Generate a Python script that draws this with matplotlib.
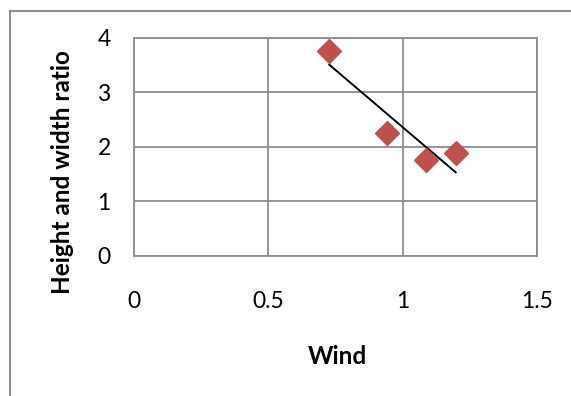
import numpy as np
import matplotlib
matplotlib.use("Agg")
import matplotlib.pyplot as plt
from matplotlib.lines import Line2D

wind = [0.727, 0.942, 1.087, 1.198]
ratio = [3.75, 2.26, 1.75, 1.88]
x_ticks = [0, 0.5, 1, 1.5]
x_tick_labels = ["0", "0.5", "1", "1.5"]
y_ticks = [0, 1, 2, 3, 4]

plt.rcParams['font.family'] = ['Lato', 'DejaVu Sans']

W, H = 571, 396
fig = plt.figure(figsize=(W / 100, H / 100), dpi=100)
ax = fig.add_axes([134.3 / W, 1 - 256 / H, (536.7 - 134.3) / W, (256 - 37.7) / H])

grid_c = "#8c8c8c"
ax.set_xlim(0, 1.5)
ax.set_ylim(0, 4)
ax.set_xticks(x_ticks)
ax.set_xticklabels(x_tick_labels)
ax.set_yticks(y_ticks)
ax.grid(True, color=grid_c, linewidth=1.3)
ax.set_axisbelow(True)
for s in ax.spines.values():
    s.set_color(grid_c)
    s.set_linewidth(1.3)
ax.tick_params(axis='both', length=0, labelsize=16.5, colors="black")
ax.tick_params(axis='x', pad=25)
ax.tick_params(axis='y', pad=17)

# trendline (linear least squares)
coef = np.polyfit(wind, ratio, 1)
xs = np.array([min(wind), max(wind)])
ax.plot(xs, np.polyval(coef, xs), color="black", linewidth=1.4, zorder=3)
ax.plot(wind, ratio, linestyle="none", marker="D", markersize=12.5,
        color="#C0504D", markeredgecolor="#C0504D", zorder=4)

fig.text(62 / W, 1 - 172 / H, "Height and width ratio", rotation=90,
         ha="center", va="center", fontsize=17.5, fontweight="bold")
fig.text(337 / W, 1 - 356 / H, "Wind", ha="center", va="center",
         fontsize=17.5, fontweight="bold")

# outer chart border (partly cropped)
fig.add_artist(Line2D([10 / W, 10 / W], [1 - 11 / H, 0], transform=fig.transFigure,
                      color="#8c8c8c", linewidth=1.5))
fig.add_artist(Line2D([10 / W, 1], [1 - 11 / H, 1 - 11 / H], transform=fig.transFigure,
                      color="#8c8c8c", linewidth=1.5))

fig.savefig("out.png", dpi=100)
